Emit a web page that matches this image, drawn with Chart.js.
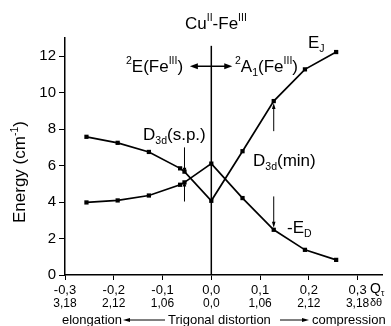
<!DOCTYPE html>
<html>
<head>
<meta charset="utf-8">
<script src="https://cdn.jsdelivr.net/npm/chart.js@4.4.0/dist/chart.umd.min.js"></script>
<style>
  html, body { margin: 0; padding: 0; background: #fff; }
  canvas { display: block; }
</style>
</head>
<body>
<canvas id="energyChart" width="391" height="326"></canvas>
<script>
const FONT = '"Liberation Sans", Arial, sans-serif';

// trigonal distortion coordinate Q_tau of each computed point
const qTau = [-0.256, -0.192, -0.128, -0.064, -0.055, 0, 0.064, 0.128, 0.192, 0.256];
// exchange parameter E_J (cm-1)
const eJ = [7.58, 7.25, 6.75, 5.85, 5.67, 4.07, 6.79, 9.54, 11.28, 12.23];
// minus the double exchange parameter, -E_D (cm-1)
const minusED = [3.98, 4.09, 4.36, 4.95, 5.08, 6.11, 4.22, 2.48, 1.38, 0.83];

const xTicks = [-0.3, -0.2, -0.1, 0, 0.1, 0.2, 0.3];
const xTickLabels = ["-0,3", "-0,2", "-0,1", "0,0", "0,1", "0,2", "0,3"];
// matching angle delta-theta under each Q tick
const thetaLabels = ["3,18", "2,12", "1,06", "0,0", "1,06", "2,12", "3,18"];
const yTicks = [0, 2, 4, 6, 8, 10, 12];

// index of the D3d saddle point and D3d minimum points
const spIndex = 4;
const minIndex = 7;

function richText(ctx, x, y, parts, size) {
  let cx = x;
  for (const [txt, kind] of parts) {
    let s = size, dy = 0;
    if (kind === 'sup') { s = size * 0.62; dy = -size * 0.42; }
    if (kind === 'sub') { s = size * 0.62; dy = size * 0.24; }
    ctx.font = s + 'px ' + FONT;
    ctx.fillText(txt, cx, y + dy);
    cx += ctx.measureText(txt).width;
  }
  return cx;
}

function arrow(ctx, x1, y1, x2, y2, head, half, width) {
  const a = Math.atan2(y2 - y1, x2 - x1);
  ctx.lineWidth = width;
  ctx.beginPath();
  ctx.moveTo(x1, y1);
  ctx.lineTo(x2 - Math.cos(a) * head * 0.6, y2 - Math.sin(a) * head * 0.6);
  ctx.stroke();
  ctx.save();
  ctx.translate(x2, y2);
  ctx.rotate(a);
  ctx.beginPath();
  ctx.moveTo(0, 0);
  ctx.lineTo(-head, -half);
  ctx.lineTo(-head, half);
  ctx.closePath();
  ctx.fill();
  ctx.restore();
}

const annotations = {
  id: 'annotations',
  afterDraw(chart) {
    const ctx = chart.ctx;
    const xs = chart.scales.x, ys = chart.scales.y;
    const px = v => xs.getPixelForValue(v);
    const py = v => ys.getPixelForValue(v);
    ctx.save();
    ctx.fillStyle = '#000';
    ctx.strokeStyle = '#000';
    ctx.textBaseline = 'alphabetic';

    // vertical line at zero distortion
    ctx.lineWidth = 1.5;
    ctx.beginPath();
    ctx.moveTo(px(0), py(0));
    ctx.lineTo(px(0), py(12.57));
    ctx.stroke();

    // double arrow between the two Fe(III) ground states
    arrow(ctx, px(0), py(11.45), px(-0.044), py(11.45), 8, 3, 1.5);
    arrow(ctx, px(0), py(11.45), px(0.043), py(11.45), 8, 3, 1.5);

    // arrows pointing at the saddle point and the minimum
    const q1 = qTau[spIndex], q2 = qTau[minIndex];
    arrow(ctx, px(q1), py(7.0), px(q1), py(eJ[spIndex]) + 2, 6, 1.8, 1);
    arrow(ctx, px(q1), py(4.03), px(q1), py(minusED[spIndex]) - 2, 6, 1.8, 1);
    arrow(ctx, px(q2), py(7.89), px(q2), py(eJ[minIndex]) + 2, 6, 1.8, 1);
    arrow(ctx, px(q2), py(4.31), px(q2), py(minusED[minIndex]) - 2, 6, 1.8, 1);

    // labels
    richText(ctx, 185, 28.5, [['Cu', ''], ['II', 'sup'], ['-Fe', ''], ['III', 'sup']], 17);
    richText(ctx, 126, 71.5, [['2', 'sup'], ['E(Fe', ''], ['III', 'sup'], [')', '']], 17);
    richText(ctx, 235, 71.5, [['2', 'sup'], ['A', ''], ['1', 'sub'], ['(Fe', ''], ['III', 'sup'], [')', '']], 17);
    richText(ctx, 308, 48, [['E', ''], ['J', 'sub']], 17);
    richText(ctx, 143, 140, [['D', ''], ['3d', 'sub'], ['(s.p.)', '']], 17);
    richText(ctx, 253, 166, [['D', ''], ['3d', 'sub'], ['(min)', '']], 17);
    richText(ctx, 287, 233, [['-E', ''], ['D', 'sub']], 17);

    // y axis title
    ctx.save();
    ctx.translate(25, 223);
    ctx.rotate(-Math.PI / 2);
    richText(ctx, 0, 0, [['Energy (cm', ''], ['-1', 'sup'], [')', '']], 17);
    ctx.restore();

    // second row of x labels: delta-theta
    ctx.font = '12px ' + FONT;
    ctx.textAlign = 'center';
    xTicks.forEach((v, i) => ctx.fillText(thetaLabels[i], px(v), 307));
    ctx.textAlign = 'left';

    richText(ctx, 370, 293, [['Q', ''], ['τ', 'sub']], 14);
    ctx.font = '11px ' + FONT;
    ctx.fillText('δθ', 370, 306);

    // caption under the axis
    ctx.font = '13px ' + FONT;
    ctx.fillText('elongation', 62, 324);
    ctx.fillText('Trigonal distortion', 168, 324);
    ctx.fillText('compression', 312, 324);
    arrow(ctx, 165, 320, 123, 320, 7, 2, 1);
    arrow(ctx, 280, 320, 309, 320, 7, 2, 1);

    ctx.restore();
  }
};

const seriesStyle = {
  borderColor: '#000',
  borderWidth: 1.7,
  pointStyle: 'rect',
  pointRadius: 3,
  pointBackgroundColor: '#000',
  pointBorderWidth: 0,
  tension: 0,
  fill: false
};

const ctx = document.getElementById('energyChart').getContext('2d');
new Chart(ctx, {
  type: 'line',
  data: {
    datasets: [
      Object.assign({ label: 'E_J', data: qTau.map((q, i) => ({ x: q, y: eJ[i] })) }, seriesStyle),
      Object.assign({ label: '-E_D', data: qTau.map((q, i) => ({ x: q, y: minusED[i] })) }, seriesStyle)
    ]
  },
  options: {
    responsive: false,
    animation: false,
    devicePixelRatio: 1,
    layout: { padding: { top: 38, right: 9, left: 0, bottom: 0 } },
    plugins: { legend: { display: false }, tooltip: { enabled: false } },
    scales: {
      x: {
        type: 'linear',
        min: -0.3,
        max: 0.35,
        afterBuildTicks: s => { s.ticks = xTicks.map(v => ({ value: v })); },
        afterFit: s => { s.height = 51; },
        grid: { drawOnChartArea: false, tickLength: 5, tickColor: '#000', tickWidth: 1 },
        border: { color: '#000', width: 1.5 },
        ticks: {
          color: '#000',
          font: { family: FONT, size: 13 },
          padding: 3,
          maxRotation: 0,
          autoSkip: false,
          callback: (v, i) => xTickLabels[i]
        }
      },
      y: {
        min: 0,
        max: 13,
        afterBuildTicks: s => { s.ticks = yTicks.map(v => ({ value: v })); },
        afterFit: s => { s.width = 65; },
        grid: { drawOnChartArea: false, tickLength: 6, tickColor: '#000', tickWidth: 1 },
        border: { color: '#000', width: 1.5 },
        ticks: {
          color: '#000',
          font: { family: FONT, size: 15 },
          padding: 3
        }
      }
    }
  },
  plugins: [annotations]
});
</script>
</body>
</html>
